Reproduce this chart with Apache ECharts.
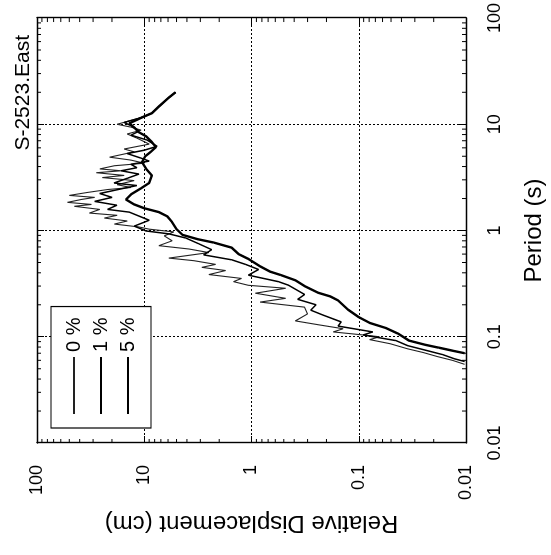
<!DOCTYPE html>
<html>
<head>
<meta charset="utf-8">
<script src="https://cdn.jsdelivr.net/npm/echarts@6/dist/echarts.min.js"></script>
<style>
html,body{margin:0;padding:0;background:#fff;overflow:hidden;width:551px;height:555px;}
#wrap{position:absolute;left:0;top:0;width:555px;height:551px;transform-origin:0 0;transform:translate(0px,555px) rotate(-90deg);}
</style>
</head>
<body>
<div id="wrap"></div>
<script>
// Values read from the (rotated) reference figure
const titleText = 'S-2523.East';
const seriesNames = ['0 %', '1 %', '5 %'];
const periodTicks = ['0.01', '0.1', '1', '10', '100'];
const dispTicks = ['0.01', '0.1', '1', '10', '100'];

const period0 = [20,17.8,14.7,12.7,11.4,10,9.4,8.8,8.1,7.4,6.5,5.85,5.5,4.9,4.6,4.3,4.07,3.8,3.65,3.5,3.3,3.15,2.95,2.7,2.54,2.43,2.28,2.14,2.05,1.96,1.84,1.76,1.69,1.58,1.46,1.39,1.31,1.23,1.15,1.08,1.03,0.97,0.89,0.80,0.72,0.67,0.62,0.55,0.52,0.48,0.45,0.42,0.385,0.354,0.33,0.305,0.286,0.257,0.23,0.212,0.19,0.164,0.141,0.129,0.119,0.111,0.104,0.1,0.094,0.086,0.077,0.071,0.065,0.060,0.055];
const disp0 = [5.1,5.9,7.3,8.5,11.2,17.9,13.3,10.7,14.4,11.7,9.0,15.4,12.4,21,13.3,10.0,19,26,16.4,28,15.4,24.6,12.4,17.9,13.3,22,34,50,29,38.6,52,31,45,26,32.5,17.9,23.6,14.4,19,11.2,9.0,5.3,6.5,5.5,7.3,3.84,2.5,5.9,3.45,2.16,2.9,1.74,2.5,1.24,1.47,1.07,0.48,0.92,0.48,0.83,0.32,0.30,0.39,0.23,0.14,0.173,0.091,0.064,0.079,0.051,0.035,0.025,0.0184,0.0134,0.0103];

const period1 = [20,17.8,14.7,12.7,11.6,10.4,9.6,8.6,7.9,7.1,6.2,5.7,5.3,4.8,4.5,4.2,3.9,3.65,3.4,3.1,2.8,2.65,2.5,2.23,2.05,1.88,1.73,1.58,1.49,1.25,1.1,0.99,0.93,0.85,0.75,0.66,0.59,0.53,0.48,0.43,0.38,0.33,0.305,0.25,0.225,0.2,0.178,0.16,0.138,0.126,0.111,0.104,0.092,0.0825,0.074,0.068,0.062,0.0585];
const disp1 = [5.1,5.9,7.3,8.5,10.5,15.4,13.0,11.2,13.3,9.4,7.6,10.0,14.4,10.7,9.0,13.3,11.7,16.4,11.2,14.4,19.1,11.7,15.4,26,20,29,18,22,13.8,9.0,12.4,9.6,5.9,4.1,3.1,2.35,2.8,1.53,1.14,0.86,1.07,0.56,0.45,0.32,0.37,0.25,0.28,0.215,0.146,0.156,0.074,0.091,0.045,0.035,0.023,0.0166,0.0128,0.0103];

const period5 = [20,17.8,14.7,12.7,11.6,10.2,9.2,8.4,7.7,6.8,6.1,5.5,5.0,4.4,3.8,3.3,2.8,2.5,2.2,1.96,1.76,1.62,1.49,1.36,1.2,1.03,0.91,0.83,0.77,0.69,0.60,0.54,0.46,0.41,0.38,0.34,0.30,0.26,0.24,0.22,0.18,0.153,0.135,0.121,0.107,0.092,0.084,0.079,0.074,0.070];
const disp5 = [5.1,5.9,7.3,8.5,10.5,13.8,12.2,11.2,9.6,8.5,7.8,8.7,9.8,10.5,9.6,8.5,9.0,10.7,13.2,14.8,12.4,10.0,7.3,6.1,5.5,5.0,4.4,3.2,2.25,1.53,1.32,1.07,0.83,0.67,0.53,0.39,0.32,0.24,0.185,0.156,0.126,0.10,0.079,0.056,0.043,0.034,0.024,0.018,0.0134,0.0103];

const FONT = '"Liberation Sans", Arial, Helvetica, sans-serif';
const zip = (a, b) => a.map((v, i) => [v, b[i]]);

// minor tick positions of the log axes (2..9 per decade)
const minorVals = [];
[-2, -1, 0, 1].forEach(k => { for (let m = 2; m <= 9; m++) minorVals.push(+(m * Math.pow(10, k)).toPrecision(3)); });
const minorData = minorVals.map(v => [v, 1, 0]).concat(minorVals.map(v => [1, v, 1]));

const logAxisBase = {
  type: 'log', logBase: 10, min: 0.01, max: 100,
  axisLine: { show: true, lineStyle: { color: '#000', width: 1.4 } },
  axisTick: { show: true, inside: true, length: 7, lineStyle: { color: '#000', width: 1 } }
};

const chart = echarts.init(document.getElementById('wrap'), null, { renderer: 'canvas' });
chart.setOption({
  animation: false,
  backgroundColor: '#fff',
  title: {
    text: titleText, right: 30, top: 8,
    textStyle: { fontFamily: FONT, fontSize: 21, fontWeight: 'normal', color: '#000' }
  },
  legend: {
    data: seriesNames, orient: 'vertical', left: 127, top: 51,
    padding: [13, 11, 13, 13], itemGap: 7, itemWidth: 57, itemHeight: 14,
    borderColor: '#000', borderWidth: 1.2, backgroundColor: '#fff',
    itemStyle: { opacity: 0 },
    textStyle: { fontFamily: FONT, fontSize: 20, color: '#000' }
  },
  grid: { left: 112, right: 17, top: 37, bottom: 84 },
  xAxis: [
    Object.assign({}, logAxisBase, {
      position: 'bottom', name: 'Period (s)', nameLocation: 'middle', nameGap: 56,
      nameTextStyle: { fontFamily: FONT, fontSize: 24, color: '#000', verticalAlign: 'top' },
      axisLabel: { margin: 20, fontFamily: FONT, fontSize: 18, color: '#000',
        formatter: v => periodTicks[Math.round(Math.log10(v)) + 2] },
      splitLine: { show: true, lineStyle: { color: '#000', width: 1, type: [2, 2] } }
    }),
    Object.assign({}, logAxisBase, {
      position: 'top', axisLabel: { show: false }, splitLine: { show: false }
    })
  ],
  yAxis: [
    Object.assign({}, logAxisBase, {
      position: 'left', name: 'Relative Displacement (cm)', nameLocation: 'middle', nameGap: 66,
      nameTextStyle: { fontFamily: FONT, fontSize: 24, color: '#000' },
      axisLabel: { margin: 22, fontFamily: FONT, fontSize: 18, color: '#000',
        formatter: v => dispTicks[Math.round(Math.log10(v)) + 2] },
      splitLine: { show: true, lineStyle: { color: '#000', width: 1, type: [2, 2] } }
    }),
    Object.assign({}, logAxisBase, {
      position: 'right', axisLabel: { show: false }, splitLine: { show: false }
    })
  ],
  series: [
    { name: seriesNames[0], type: 'line', data: zip(period0, disp0), showSymbol: false, symbol: 'none',
      lineStyle: { color: '#222', width: 1.1 }, itemStyle: { color: '#222' }, z: 3 },
    { name: seriesNames[1], type: 'line', data: zip(period1, disp1), showSymbol: false, symbol: 'none',
      lineStyle: { color: '#000', width: 1.5 }, itemStyle: { color: '#000' }, z: 4 },
    { name: seriesNames[2], type: 'line', data: zip(period5, disp5), showSymbol: false, symbol: 'none',
      lineStyle: { color: '#000', width: 2.4 }, itemStyle: { color: '#000' }, z: 5 },
    { name: 'minorTicks', type: 'custom', silent: true, data: minorData, z: 6,
      encode: { x: 0, y: 1 },
      renderItem: function (params, api) {
        const cs = params.coordSys;
        const L = 4;
        const st = { stroke: '#000', lineWidth: 1 };
        if (api.value(2) === 0) {
          const px = api.coord([api.value(0), 1])[0];
          return { type: 'group', children: [
            { type: 'line', shape: { x1: px, y1: cs.y + cs.height, x2: px, y2: cs.y + cs.height - L }, style: st },
            { type: 'line', shape: { x1: px, y1: cs.y, x2: px, y2: cs.y + L }, style: st }
          ] };
        }
        const py = api.coord([1, api.value(1)])[1];
        return { type: 'group', children: [
          { type: 'line', shape: { x1: cs.x, y1: py, x2: cs.x + L, y2: py }, style: st },
          { type: 'line', shape: { x1: cs.x + cs.width, y1: py, x2: cs.x + cs.width - L, y2: py }, style: st }
        ] };
      }
    }
  ]
});
</script>
</body>
</html>
